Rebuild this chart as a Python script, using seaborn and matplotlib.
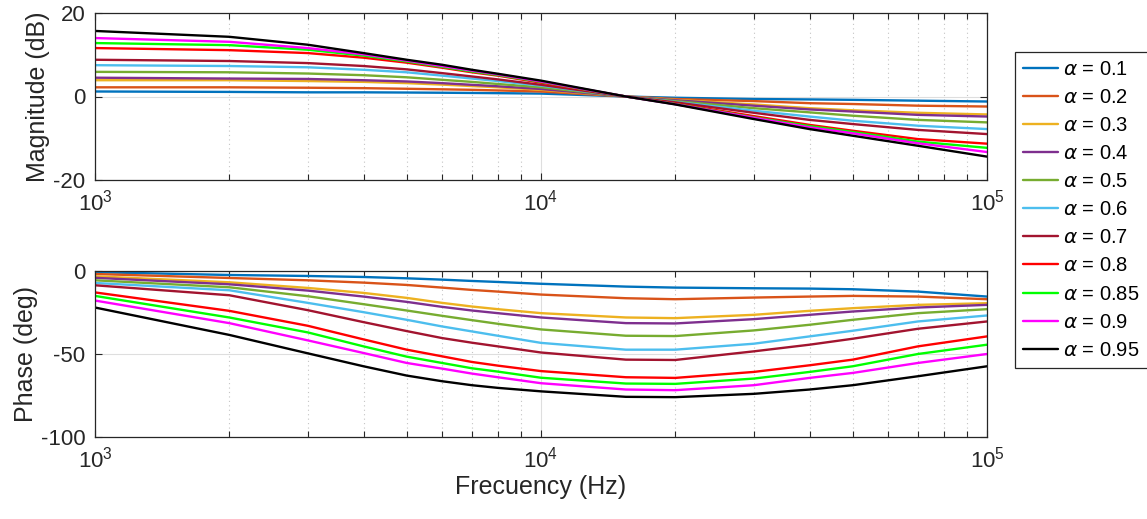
import numpy as np
import pandas as pd
import matplotlib
matplotlib.use("Agg")
import matplotlib.pyplot as plt
import seaborn as sns
from matplotlib.ticker import LogLocator, NullFormatter
from matplotlib.lines import Line2D

# ---------------- data ----------------
freq = [1000, 2000, 3000, 4000, 5000, 6000, 7000, 8000, 10000, 15500,
        20000, 30000, 40000, 50000, 70000, 100000]
alphas = ["0.1", "0.2", "0.3", "0.4", "0.5", "0.6", "0.7", "0.8", "0.85", "0.9", "0.95"]

mag_01 = [1.2, 1.1, 1.0, 1.0, 0.95, 0.9, 0.85, 0.8, 0.7, 0.0, -0.3, -0.6, -0.7, -0.8, -1.0, -1.2]
mag_02 = [2.2, 2.2, 2.1, 2.0, 1.85, 1.72, 1.6, 1.45, 1.2, 0.0, -0.6, -1.1, -1.6, -1.8, -2.2, -2.4]
mag_03 = [3.9, 3.9, 3.7, 3.5, 3.2, 2.85, 2.5, 2.2, 1.6, 0.0, -0.8, -1.9, -2.8, -3.3, -3.9, -4.3]
mag_04 = [4.5, 4.3, 4.2, 3.9, 3.6, 3.2, 2.8, 2.45, 1.8, 0.0, -0.9, -2.2, -3.1, -3.6, -4.4, -4.8]
mag_05 = [5.9, 5.8, 5.5, 5.1, 4.6, 4.0, 3.5, 3.0, 2.2, 0.0, -1.1, -2.8, -3.8, -4.6, -5.6, -6.2]
mag_06 = [7.5, 7.3, 7.0, 6.4, 5.8, 5.0, 4.3, 3.7, 2.6, 0.0, -1.3, -3.4, -4.8, -5.8, -7.0, -7.8]
mag_07 = [8.8, 8.5, 8.0, 7.3, 6.5, 5.6, 4.8, 4.1, 2.8, 0.0, -1.4, -3.9, -5.6, -6.6, -8.0, -9.0]
mag_08 = [11.6, 11.1, 10.4, 9.3, 8.1, 6.9, 5.8, 5.0, 3.3, 0.0, -1.7, -4.7, -6.8, -8.2, -10.2, -11.3]
mag_085 = [12.8, 12.3, 11.2, 9.8, 8.4, 7.1, 6.0, 5.15, 3.5, 0.0, -1.8, -5.0, -7.1, -8.5, -10.8, -12.3]
mag_09 = [14.0, 13.1, 11.6, 10.1, 8.6, 7.3, 6.2, 5.3, 3.6, 0.0, -1.85, -5.1, -7.4, -8.8, -11.2, -13.3]
mag_095 = [15.7, 14.3, 12.4, 10.4, 8.8, 7.6, 6.4, 5.45, 3.8, 0.0, -1.9, -5.4, -7.8, -9.4, -11.8, -14.4]

ph_01 = [-0.7, -2.4, -3.0, -3.6, -4.4, -5.2, -6.0, -6.6, -7.7, -9.4, -10.0, -10.4, -10.6, -11.0, -12.4, -15.4]
ph_02 = [-1.8, -4.2, -5.6, -7.0, -8.4, -10.0, -11.4, -12.4, -14.2, -16.4, -17.0, -16.0, -15.4, -15.0, -15.4, -17.0]
ph_03 = [-3.2, -6.8, -10.2, -13.2, -16.2, -19.2, -21.4, -23.0, -25.4, -28.0, -28.4, -26.4, -24.0, -22.4, -20.4, -19.4]
ph_04 = [-4.1, -8.0, -11.8, -15.4, -18.6, -21.6, -23.8, -25.4, -28.0, -31.4, -31.6, -29.0, -26.4, -24.4, -22.0, -20.4]
ph_05 = [-5.6, -9.8, -15.2, -20.0, -23.8, -27.0, -29.6, -31.8, -35.2, -39.0, -39.2, -35.8, -32.4, -29.4, -25.4, -23.0]
ph_06 = [-7.2, -11.6, -19.2, -24.8, -29.4, -33.4, -36.4, -39.0, -43.3, -47.4, -47.4, -43.8, -39.4, -36.0, -30.4, -26.8]
ph_07 = [-8.6, -14.6, -23.6, -30.8, -36.2, -40.4, -43.2, -45.4, -49.1, -53.4, -53.6, -48.4, -44.4, -40.8, -34.8, -30.4]
ph_08 = [-12.9, -24.0, -33.0, -41.2, -47.4, -51.4, -54.8, -57.0, -60.3, -64.0, -64.4, -60.8, -56.8, -53.4, -45.4, -39.4]
ph_085 = [-15.0, -28.0, -37.0, -45.4, -51.6, -55.4, -58.6, -60.6, -64.3, -67.8, -68.0, -64.8, -60.8, -57.4, -50.0, -44.4]
ph_09 = [-17.8, -31.4, -41.8, -49.4, -55.4, -58.8, -61.8, -64.0, -67.6, -71.4, -71.8, -68.8, -64.4, -61.4, -55.4, -50.0]
ph_095 = [-22.0, -38.5, -49.6, -57.4, -63.0, -66.4, -68.8, -70.4, -72.5, -75.8, -76.0, -74.0, -71.4, -68.8, -63.4, -57.4]

mags = [mag_01, mag_02, mag_03, mag_04, mag_05, mag_06, mag_07, mag_08, mag_085, mag_09, mag_095]
phases = [ph_01, ph_02, ph_03, ph_04, ph_05, ph_06, ph_07, ph_08, ph_085, ph_09, ph_095]

colors = ["#0072BD", "#D95319", "#EDB120", "#7E2F8E", "#77AC30", "#4DBEEE",
          "#A2142F", "#FF0000", "#00FF00", "#FF00FF", "#000000"]

rows = []
for a, m, p in zip(alphas, mags, phases):
    for f, mv, pv in zip(freq, m, p):
        rows.append({"f": f, "alpha": a, "mag": mv, "phase": pv})
df = pd.DataFrame(rows)

# ---------------- style ----------------
sns.set_style("ticks")
plt.rcParams["font.family"] = ["Liberation Sans", "DejaVu Sans"]
plt.rcParams["axes.unicode_minus"] = False
TXT = "#262626"

fig = plt.figure(figsize=(11.47, 5.19), dpi=100)
ax1 = fig.add_axes([95 / 1147, 1 - 180 / 519, 892 / 1147, 167 / 519])
ax2 = fig.add_axes([95 / 1147, 1 - 437 / 519, 892 / 1147, 166 / 519])

palette = dict(zip(alphas, colors))
sns.lineplot(data=df, x="f", y="mag", hue="alpha", hue_order=alphas, palette=palette,
             ax=ax1, legend=False, linewidth=1.7, sort=True)
sns.lineplot(data=df, x="f", y="phase", hue="alpha", hue_order=alphas, palette=palette,
             ax=ax2, legend=False, linewidth=1.7, sort=True)

for ax in (ax1, ax2):
    ax.set_xscale("log")
    ax.set_xlim(1e3, 1e5)
    ax.xaxis.set_major_locator(LogLocator(base=10, numticks=10))
    ax.xaxis.set_minor_locator(LogLocator(base=10, subs=np.arange(2, 10), numticks=20))
    ax.xaxis.set_minor_formatter(NullFormatter())
    ax.grid(True, which="major", color="#dedede", lw=0.8, ls="-")
    ax.grid(True, which="minor", axis="x", color="#c4c4c4", lw=0.8, ls=(0, (1, 3)))
    ax.set_axisbelow(True)
    ax.tick_params(which="both", direction="in", top=True, right=True,
                   color=TXT, width=0.8, labelcolor=TXT, labelsize=16)
    ax.tick_params(which="major", length=5, pad=7)
    ax.tick_params(which="minor", length=4)
    for s in ax.spines.values():
        s.set_visible(True)
        s.set_color(TXT)
        s.set_linewidth(0.9)
    ax.set_xlabel("")

ax1.set_ylim(-20, 20)
ax1.set_yticks([-20, 0, 20])
ax1.set_ylabel("Magnitude (dB)", fontsize=18, color=TXT, labelpad=2)
ax2.set_ylim(-100, 0)
ax2.set_yticks([-100, -50, 0])
ax2.set_ylabel("Phase (deg)", fontsize=18, color=TXT, labelpad=2)
ax2.set_xlabel("Frecuency (Hz)", fontsize=18, color=TXT, labelpad=2)

handles = [Line2D([], [], color=c, lw=1.7) for c in colors]
labels = [r"$\alpha$ = " + a for a in alphas]
leg = fig.legend(handles, labels, loc="upper left",
                 bbox_to_anchor=(1015 / 1147, 1 - 52 / 519), borderaxespad=0,
                 fontsize=14.5, frameon=True, fancybox=False, framealpha=1,
                 edgecolor=TXT, handlelength=1.75, handletextpad=0.25,
                 labelspacing=0.45, borderpad=0.4)
leg.get_frame().set_linewidth(0.9)
for t in leg.get_texts():
    t.set_color("#000000")

fig.savefig("out.png", dpi=100)
